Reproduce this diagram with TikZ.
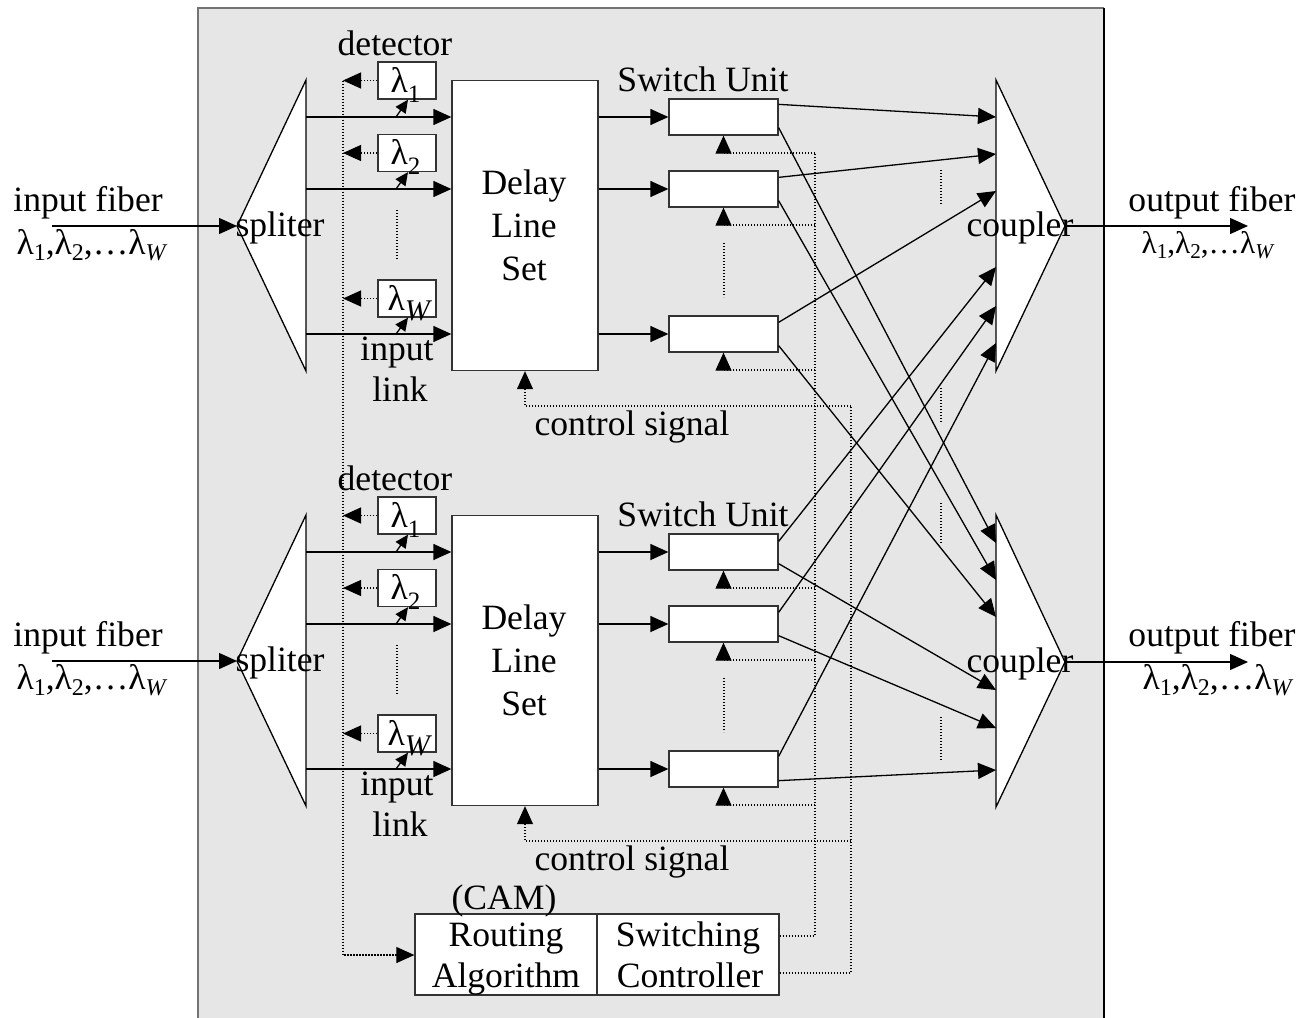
\documentclass[tikz,border=0pt]{standalone}
\usepackage{fontspec}
\setmainfont{Liberation Serif}
\usetikzlibrary{arrows.meta,calc}
\definecolor{bg}{RGB}{230,230,230}
\definecolor{framegray}{RGB}{115,115,115}
\newcommand\lsub[1]{\raisebox{-3pt}{\fontsize{12}{12}\selectfont #1}}
\newcommand\dsub[1]{\raisebox{-5pt}{\fontsize{12.5}{12.5}\selectfont #1}}
\begin{document}
\begin{tikzpicture}[x=0.5pt,y=-0.5pt,
  font=\fontsize{17.8}{21.5}\selectfont,
  line width=0.65pt,
  txt/.style={inner sep=0pt},
  btxt/.style={inner sep=0pt, anchor=base},
  arr/.style={-{Triangle[length=9pt,width=8pt]}},
  smallarr/.style={-{Triangle[length=6.5pt,width=6pt]}},
  dotline/.style={line width=0.55pt, dash pattern=on 0.6pt off 0.9pt},
  dotarr/.style={dotline, -{Triangle[length=9pt,width=8pt]}},
  dbox/.style={draw=black!80, fill=white, minimum width=73pt, minimum height=145pt, inner sep=0pt},
  detbox/.style={draw=black!80, fill=white, minimum width=29pt, minimum height=18.5pt, inner sep=0pt},
  swbox/.style={draw=black!80, fill=white, minimum width=54.5pt, minimum height=18pt, inner sep=0pt},
  cambox/.style={draw=black!80, fill=white, minimum width=91pt, minimum height=40.5pt, inner sep=0pt}]
\useasboundingbox (0,0) rectangle (1302,1018);
% frame
\fill[bg] (198,8) rectangle (1104,1040);
\draw[framegray, line width=1pt] (198,1040) -- (198,8) -- (1104,8);
\draw[black, line width=1pt] (1104,8) -- (1104,1040);

% CAM boxes
\node[cambox] (ra) at (506,954.5) {};
\node[cambox] (sc) at (688,954.5) {};
\node[btxt] (rat1) at (506,946) {Routing};
\node[btxt] (rat2) at (506,987) {Algorithm};
\node[btxt] (sct1) at (688,946) {Switching};
\node[btxt] (sct2) at (690,987) {Controller};
\node[btxt] (cam) at (504,909) {(CAM)};

\foreach \k/\sh in {a/0pt,b/-217.5pt}{
\begin{scope}[yshift=\sh]
  % splitter
  \coordinate (sp\k) at (237,226);
  \coordinate (in\k) at (52,226);
  \draw[arr] (in\k) -- (sp\k);
  \draw[fill=white] (306,80) coordinate (spt\k) -- (306,371) coordinate (spb\k) -- (sp\k) -- cycle;
  \node[btxt] (if\k) at (88,211) {input fiber};
  \node[btxt] (il\k) at (92,254) {λ\lsub{1},λ\lsub{2},…λ\lsub{\textit{W}}};
  \node[btxt] (spl\k) at (280,236) {spliter};
  % delay line set
  \node[dbox] (dl\k) at (525,225.5) {};
  \node[btxt] (dlt1\k) at (524,194) {Delay};
  \node[btxt] (dlt2\k) at (524,237) {Line};
  \node[btxt] (dlt3\k) at (524,280) {Set};
  \node[btxt] (detl\k) at (395,55) {detector};
  \node[btxt] (inp\k) at (397,360) {input};
  \node[btxt] (lnk\k) at (400,401) {link};
  \node[btxt] (swl\k) at (703,91) {Switch Unit};
  \coordinate (dva\k) at (397,210); \coordinate (dvb\k) at (397,260);
  \draw[dotline] (dva\k) -- (dvb\k);
  \coordinate (sva\k) at (724,243); \coordinate (svb\k) at (724,297);
  \draw[dotline] (sva\k) -- (svb\k);
  \foreach \i/\y/\dy in {1/117/80.5, 2/189/153, 3/334/298.5}{
    \coordinate (ls\k\i) at (306,\y);
    \node[detbox] (det\k\i) at (407,\dy) {};
    \draw[arr] (ls\k\i) -- (ls\k\i -| dl\k.west);
    \coordinate (pk\k\i) at (396,\y);
    \draw[smallarr] (pk\k\i) -- ($(det\k\i.south)+(1,0)$);
    \coordinate (db\k\i) at (343,\dy);
    \draw[dotarr] (det\k\i.west) -- (db\k\i);
    \node[swbox] (sw\k\i) at (723.5,\y) {};
    \draw[arr] (sw\k\i -| dl\k.east) -- (sw\k\i.west);
    \coordinate (cs\k\i) at (815,\y+36);
    \draw[dotarr] (cs\k\i) -| (sw\k\i.south);
  }
  \node[txt, anchor=base west] (dla\k) at (390,92) {λ\dsub{1}};
  \node[txt, anchor=base west] (dlb\k) at (390,164.5) {λ\dsub{2}};
  \node[txt, anchor=base west] (dlc\k) at (387,310) {λ\dsub{\fontsize{15}{15}\selectfont\textit{W}}};
  \coordinate (cc\k) at (851,406);
  \draw[dotarr] (cc\k) -| (dl\k.south);
  \node[btxt] (ctl\k) at (632,435) {control signal};
\end{scope}}

% buses
\coordinate (busend) at (343,955);
\draw[dotarr] (dba1) -- (busend) -- (ra.west |- busend);
\draw[dotline] ($(sc.east)+(0,-18.5)$) -| (csa1);
\draw[dotline] ($(sc.east)+(0,18.5)$) -| (cca);

% coupler inputs
\foreach \n/\y in {1/117,2/154,3/191,4/267,5/306,6/343}{\coordinate (cia\n) at (996,\y);}
\foreach \n/\y in {1/543,2/580,3/617,4/690,5/728,6/770}{\coordinate (cib\n) at (996,\y);}

\draw[arr] ($(swa1.north east)+(0,6)$) -- (cia1);
\draw[arr] ($(swa2.north east)+(0,7)$) -- (cia2);
\draw[arr] ($(swa3.north east)+(0,7)$) -- (cia3);
\draw[arr] ($(swa1.south east)+(0,-8)$) -- (cib1);
\draw[arr] ($(swa2.south east)+(0,-7)$) -- (cib2);
\draw[arr] ($(swa3.south east)+(0,-7)$) -- (cib3);
\draw[arr] ($(swb1.north east)+(0,8)$) -- (cia4);
\draw[arr] ($(swb2.north east)+(0,7)$) -- (cia5);
\draw[arr] ($(swb3.north east)+(0,6)$) -- (cia6);
\draw[arr] ($(swb1.south east)+(0,-7)$) -- (cib4);
\draw[arr] ($(swb2.south east)+(0,-7)$) -- (cib5);
\draw[arr] ($(swb3.south east)+(0,-7)$) -- (cib6);

\foreach \n/\ya/\yb in {1/170/205,2/388/423,3/503/543,4/717/761}{
  \coordinate (mka\n) at (941,\ya); \coordinate (mkb\n) at (941,\yb);
  \draw[dotline] (mka\n) -- (mkb\n);}

% couplers
\draw[fill=white] (996,80) coordinate (cta) -- (996,371) coordinate (cba) -- (1065,226) coordinate (cpa) -- cycle;
\draw[fill=white] (996,515) coordinate (ctb) -- (996,807) coordinate (cbb) -- (1065,662) coordinate (cpb) -- cycle;
\coordinate (outa) at (1248,226);
\coordinate (outb) at (1248,662);
\draw[arr] (cpa) -- (outa);
\draw[arr] (cpb) -- (outb);
\node[btxt] (cpla) at (1020,236) {coupler};
\node[btxt] (cplb) at (1020,672) {coupler};
\node[btxt] (ofa) at (1212,211) {output fiber};
\node[btxt] (ofb) at (1212,646) {output fiber};
\node[btxt, scale=0.88] (ola) at (1208,253) {λ\lsub{1},λ\lsub{2},…λ\lsub{\textit{W}}};
\node[btxt] (olb) at (1218,689) {λ\lsub{1},λ\lsub{2},…λ\lsub{\textit{W}}};
\end{tikzpicture}
\end{document}
